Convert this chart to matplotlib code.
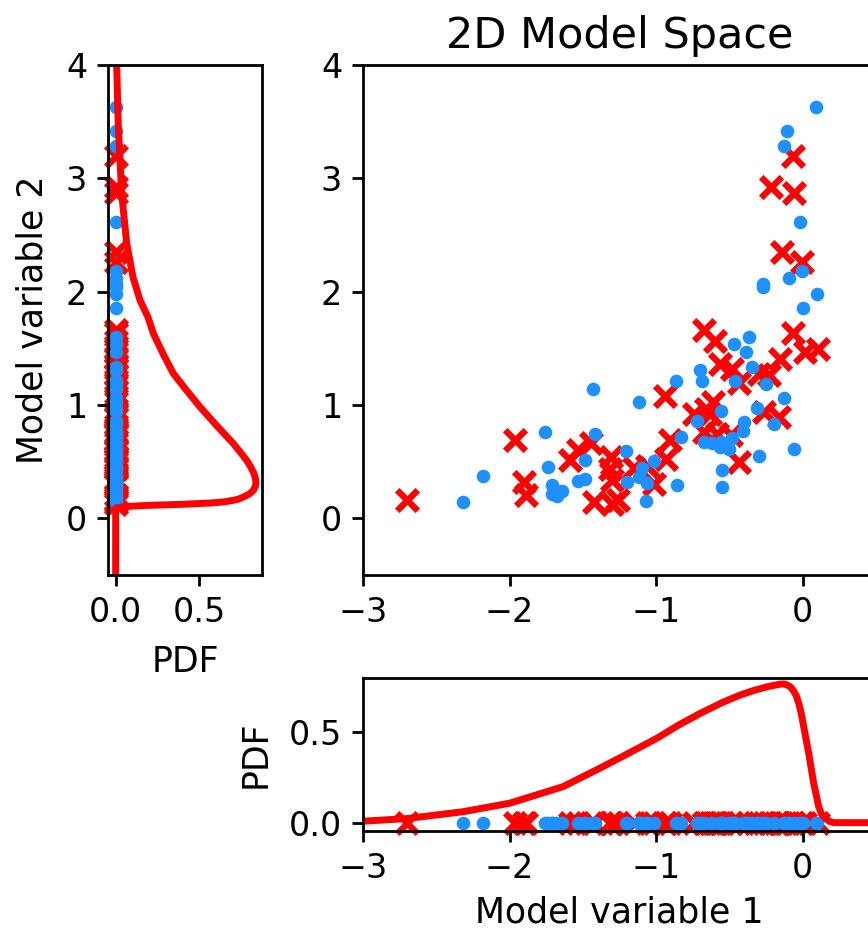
import matplotlib
matplotlib.use("Agg")
import matplotlib.pyplot as plt
import numpy as np

# ---- data ----
blue_x = [0.092, -0.107, -0.130, -0.016, -0.004, -0.096, -0.273, -0.273, 0.096, 0.005,
          -0.364, -0.467, -0.389, -0.346, -0.701, -0.690, -0.464, -0.248, -0.867, -1.428,
          -1.118, -0.130, -0.311, -0.557, -0.719, -0.403, -0.193, -0.407, -1.760, -1.414,
          -0.827, -0.482, -0.676, -0.619, -0.557, -0.562, -0.505, -1.206, -0.061, -0.296,
          -1.484, -1.013, -1.735, -1.097, -0.551, -2.183, -1.120, -1.484, -1.530, -1.199,
          -1.059, -1.708, -0.861, -0.551, -1.639, -1.708, -1.674, -1.068, -2.316]
blue_y = [3.627, 3.420, 3.287, 2.616, 2.184, 2.122, 2.072, 2.042, 1.978, 1.852,
          1.596, 1.536, 1.472, 1.336, 1.313, 1.210, 1.212, 1.181, 1.210, 1.139,
          1.030, 1.066, 0.977, 0.947, 0.863, 0.854, 0.830, 0.771, 0.762, 0.748,
          0.718, 0.706, 0.674, 0.665, 0.674, 0.630, 0.609, 0.592, 0.609, 0.547,
          0.512, 0.509, 0.450, 0.448, 0.430, 0.377, 0.365, 0.351, 0.327, 0.324,
          0.312, 0.294, 0.298, 0.280, 0.245, 0.218, 0.194, 0.150, 0.144]

red_x = [-2.703, -1.964, -1.901, -1.885, -1.589, -1.532, -1.445, -1.426, -1.307, -1.317,
         -1.302, -1.300, -1.257, -1.154, -1.063, -1.018, -0.941, -0.931, -0.904, -0.676,
         -0.596, -0.610, -0.658, -0.740, -0.630, -0.562, -0.485, -0.437, -0.676, -0.586,
         -0.490, -0.432, -0.301, -0.227, -0.157, -0.068, 0.018, 0.104, -0.264, -0.164,
         -0.068, -0.219, -0.059, -0.141, -0.002]
red_y = [0.165, 0.695, 0.318, 0.203, 0.518, 0.600, 0.665, 0.147, 0.541, 0.439,
         0.336, 0.128, 0.159, 0.446, 0.459, 0.300, 1.077, 0.527, 0.689, 1.663,
         1.566, 1.027, 0.969, 0.918, 0.924, 1.360, 1.314, 1.192, 0.764, 0.748,
         0.733, 0.497, 1.272, 1.267, 1.410, 1.634, 1.468, 1.495, 0.939, 0.892,
         3.196, 2.920, 2.872, 2.346, 2.263]

# PDF of model variable 2 (curve in the left panel)
pdf2_y = [4.0, 3.455, 2.870, 2.428, 2.128, 1.925, 1.775, 1.631, 1.450, 1.278,
          1.130, 0.983, 0.820, 0.660, 0.580, 0.512, 0.450, 0.395, 0.350, 0.320,
          0.280, 0.250, 0.232, 0.210, 0.188, 0.170, 0.159, 0.145, 0.135, 0.124,
          0.115, 0.106, 0.097, 0.090, -0.5]
pdf2_v = [0.006, 0.016, 0.036, 0.066, 0.104, 0.146, 0.194, 0.226, 0.285, 0.346,
          0.425, 0.506, 0.605, 0.706, 0.750, 0.786, 0.812, 0.830, 0.839, 0.842,
          0.838, 0.827, 0.816, 0.796, 0.766, 0.738, 0.706, 0.650, 0.566, 0.406,
          0.206, 0.080, 0.020, 0.0, 0.0]

# PDF of model variable 1 (curve in the bottom panel)
pdf1_x = [-3.0, -2.705, -2.318, -1.999, -1.635, -1.407, -1.225, -0.995, -0.850, -0.699,
          -0.550, -0.426, -0.330, -0.243, -0.190, -0.152, -0.125, -0.107, -0.085, -0.066,
          -0.045, -0.027, -0.010, 0.007, 0.041, 0.075, 0.109, 0.130, 0.155, 0.180,
          0.212, 0.5]
pdf1_v = [0.008, 0.022, 0.060, 0.107, 0.198, 0.290, 0.366, 0.464, 0.535, 0.601,
          0.660, 0.702, 0.728, 0.747, 0.756, 0.762, 0.762, 0.757, 0.747, 0.729,
          0.700, 0.656, 0.600, 0.527, 0.381, 0.216, 0.088, 0.045, 0.024, 0.008,
          0.0, 0.0]

BLUE = "#1E90FF"
RED = "#FF0000"

plt.rcParams.update({
    "font.size": 12,
    "axes.labelsize": 12.5,
    "axes.linewidth": 1.0,
    "xtick.major.width": 1.0,
    "ytick.major.width": 1.0,
    "xtick.major.size": 4,
    "ytick.major.size": 4,
})

W, H, DPI = 868, 935, 200
fig = plt.figure(figsize=(W / DPI, H / DPI), dpi=DPI)

ax_main = fig.add_axes([363 / W, 1 - 575 / H, 513 / W, 510 / H])
ax_left = fig.add_axes([108 / W, 1 - 575 / H, 154.3 / W, 510 / H])
ax_bot = fig.add_axes([363 / W, 1 - 831 / H, 513 / W, 153.3 / H])

xs_kw = dict(marker="x", color=RED, s=55, linewidths=2.3)
bs_kw = dict(marker="o", color=BLUE, s=24, linewidths=0)
curve_kw = dict(color=RED, lw=2.5, solid_joinstyle="round")

# main scatter
ax_main.scatter(red_x, red_y, **xs_kw)
ax_main.scatter(blue_x, blue_y, **bs_kw)
ax_main.set_xlim(-3, 0.5)
ax_main.set_ylim(-0.5, 4)
ax_main.set_xticks([-3, -2, -1, 0])
ax_main.set_yticks([0, 1, 2, 3, 4])
ax_main.set_title("2D Model Space", fontsize=15.5)

# left marginal
ax_left.plot(pdf2_v, pdf2_y, **curve_kw)
ax_left.scatter(np.zeros(len(red_y)), red_y, clip_on=False, **xs_kw)
ax_left.scatter(np.zeros(len(blue_y)), blue_y, clip_on=False, **bs_kw)
ax_left.set_ylim(-0.5, 4)
ax_left.set_xlim(-0.046, 0.88)
ax_left.set_xticks([0.0, 0.5])
ax_left.set_xticklabels(["0.0", "0.5"])
ax_left.set_yticks([0, 1, 2, 3, 4])
ax_left.set_xlabel("PDF", labelpad=6)
ax_left.set_ylabel("Model variable 2", labelpad=6)

# bottom marginal
ax_bot.plot(pdf1_x, pdf1_v, **curve_kw)
ax_bot.scatter(red_x, np.zeros(len(red_x)), clip_on=False, **xs_kw)
ax_bot.scatter(blue_x, np.zeros(len(blue_x)), clip_on=False, **bs_kw)
ax_bot.set_xlim(-3, 0.5)
ax_bot.set_ylim(-0.046, 0.797)
ax_bot.set_xticks([-3, -2, -1, 0])
ax_bot.set_yticks([0.0, 0.5])
ax_bot.set_yticklabels(["0.0", "0.5"])
ax_bot.set_xlabel("Model variable 1", labelpad=4)
ax_bot.set_ylabel("PDF", labelpad=6)

fig.savefig("out.png", dpi=DPI)
